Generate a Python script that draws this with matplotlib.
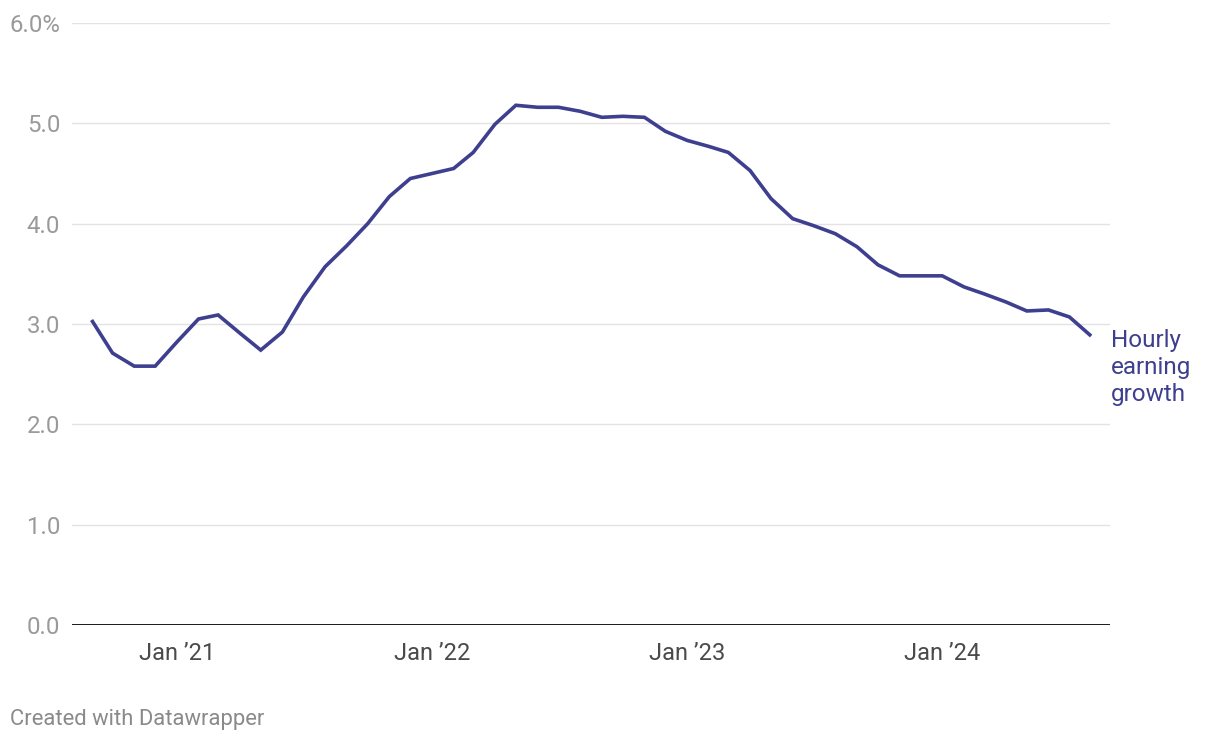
import matplotlib
matplotlib.use("Agg")
import matplotlib.pyplot as plt
import matplotlib.dates as mdates
import numpy as np
import pandas as pd

plt.rcParams['font.family'] = ['Roboto', 'DejaVu Sans']

months = pd.date_range("2020-09-01", "2024-08-01", freq="MS")
growth = [3.04, 2.71, 2.58, 2.58,
          2.82, 3.05, 3.09, 2.91, 2.74, 2.92, 3.27, 3.57, 3.78, 4.00, 4.27, 4.45,
          4.50, 4.55, 4.71, 4.99, 5.18, 5.16, 5.16, 5.12, 5.06, 5.07, 5.06, 4.92,
          4.83, 4.77, 4.71, 4.53, 4.25, 4.05, 3.98, 3.90, 3.77, 3.59, 3.48, 3.48,
          3.48, 3.37, 3.30, 3.22, 3.13, 3.14, 3.07, 2.88]
yticks = [0, 1, 2, 3, 4, 5, 6]
ytick_labels = ["0.0", "1.0", "2.0", "3.0", "4.0", "5.0", "6.0%"]
xtick_dates = pd.to_datetime(["2021-01-01", "2022-01-01", "2023-01-01", "2024-01-01"])
xtick_labels = ["Jan \u201921", "Jan \u201922", "Jan \u201923", "Jan \u201924"]
series_label = "Hourly\nearning\ngrowth"

line_color = "#3f3f8f"

fig = plt.figure(figsize=(12.2, 7.42), dpi=100)
ax = fig.add_axes([72/1220, 1 - 625/742, (1110 - 72)/1220, (625 - 23)/742])

ax.set_ylim(0, 6)
ax.set_xlim(pd.Timestamp("2020-08-04"), pd.Timestamp("2024-08-28"))

for y in yticks[1:]:
    ax.axhline(y, color="#e3e3e3", linewidth=1.0, zorder=1)
ax.axhline(0, color="#1a1a1a", linewidth=1.4, zorder=3)

ax.plot(months, growth, color=line_color, linewidth=2.6, solid_joinstyle="miter",
        solid_capstyle="butt", zorder=4)

for s in ax.spines.values():
    s.set_visible(False)

ax.set_yticks(yticks)
ax.set_yticklabels(ytick_labels)
ax.tick_params(axis="y", length=0, pad=8.5, labelsize=17.3, labelcolor="#9a9a9a")
ax.set_xticks(xtick_dates)
ax.set_xticklabels(xtick_labels)
ax.tick_params(axis="x", length=0, pad=12.3, labelsize=17, labelcolor="#4a4a4a")

ax.text(months[-1] + pd.Timedelta(days=28), 2.95, series_label,
        color=line_color, fontsize=17.5, va="top", ha="left", linespacing=1.22,
        clip_on=False)

fig.text(10/1220, 1 - 720/742, "Created with Datawrapper", fontsize=15.8,
         color="#8a8a8a", va="center", ha="left")

fig.savefig("out.png", dpi=100, facecolor="white")
